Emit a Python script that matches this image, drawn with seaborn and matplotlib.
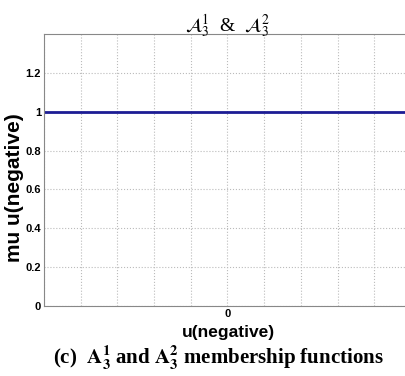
import matplotlib
matplotlib.use("Agg")
import matplotlib.pyplot as plt
import seaborn as sns
import pandas as pd

u_values = [-5, 5]
mu_values = [1, 1]
y_ticks = [0, 0.2, 0.4, 0.6, 0.8, 1, 1.2]
y_tick_labels = ["0", "0.2", "0.4", "0.6", "0.8", "1", "1.2"]
x_ticks = [-5, -4, -3, -2, -1, 0, 1, 2, 3, 4, 5]
x_tick_labels = ["", "", "", "", "", "0", "", "", "", "", ""]

sns.set_style("white")
plt.rcParams['font.family'] = ['Liberation Sans', 'DejaVu Sans']
plt.rcParams['mathtext.fontset'] = 'stix'
plt.rcParams['text.color'] = 'black'
plt.rcParams['axes.labelcolor'] = 'black'

fig = plt.figure(figsize=(4.06, 3.76), dpi=100)
W, H = 406, 376
ax = fig.add_axes([44 / W, 1 - 306 / H, (411 - 44) / W, (306 - 34) / H])

df = pd.DataFrame({"u": u_values, "mu": mu_values})
sns.lineplot(data=df, x="u", y="mu", ax=ax, color="#1c1c94", linewidth=2)

ax.set_xlim(-5, 5)
ax.set_ylim(0, 1.4)
ax.set_xticks(x_ticks)
ax.set_xticklabels(x_tick_labels)
ax.set_yticks(y_ticks)
ax.set_yticklabels(y_tick_labels)
ax.tick_params(direction="in", length=3, labelsize=8, colors="black", width=0.6,
               pad=2)
ax.tick_params(axis="both", color="#888888")
for lab in ax.get_xticklabels() + ax.get_yticklabels():
    lab.set_fontweight("bold")
ax.grid(True, linestyle=":", color="#bbbbbb", linewidth=0.8)
for s in ax.spines.values():
    s.set_color("#888888")
    s.set_linewidth(0.8)

ax.set_xlabel("u(negative)", fontsize=12.5, fontweight="bold")
ax.xaxis.set_label_coords((228 - 44) / 367, (306 - 332) / 272)
ax.xaxis.label.set_va("center")
ax.set_ylabel("mu u(negative)", fontsize=15, fontweight="bold")
ax.yaxis.set_label_coords((14 - 44) / 367, (306 - 188) / 272)
ax.yaxis.label.set_va("center")
ax.set_title(r"$\mathcal{A}_3^1$  &  $\mathcal{A}_3^2$", fontsize=14, pad=1,
             family=['Liberation Serif', 'DejaVu Serif'])

fig.text(218 / W, 1 - 358 / H,
         r"(c)  $\mathbf{A_3^1}$ and $\mathbf{A_3^2}$ membership functions",
         ha="center", va="center", fontsize=15, fontweight="bold",
         family=['Liberation Serif', 'DejaVu Serif'])

fig.savefig("out.png", dpi=100)
